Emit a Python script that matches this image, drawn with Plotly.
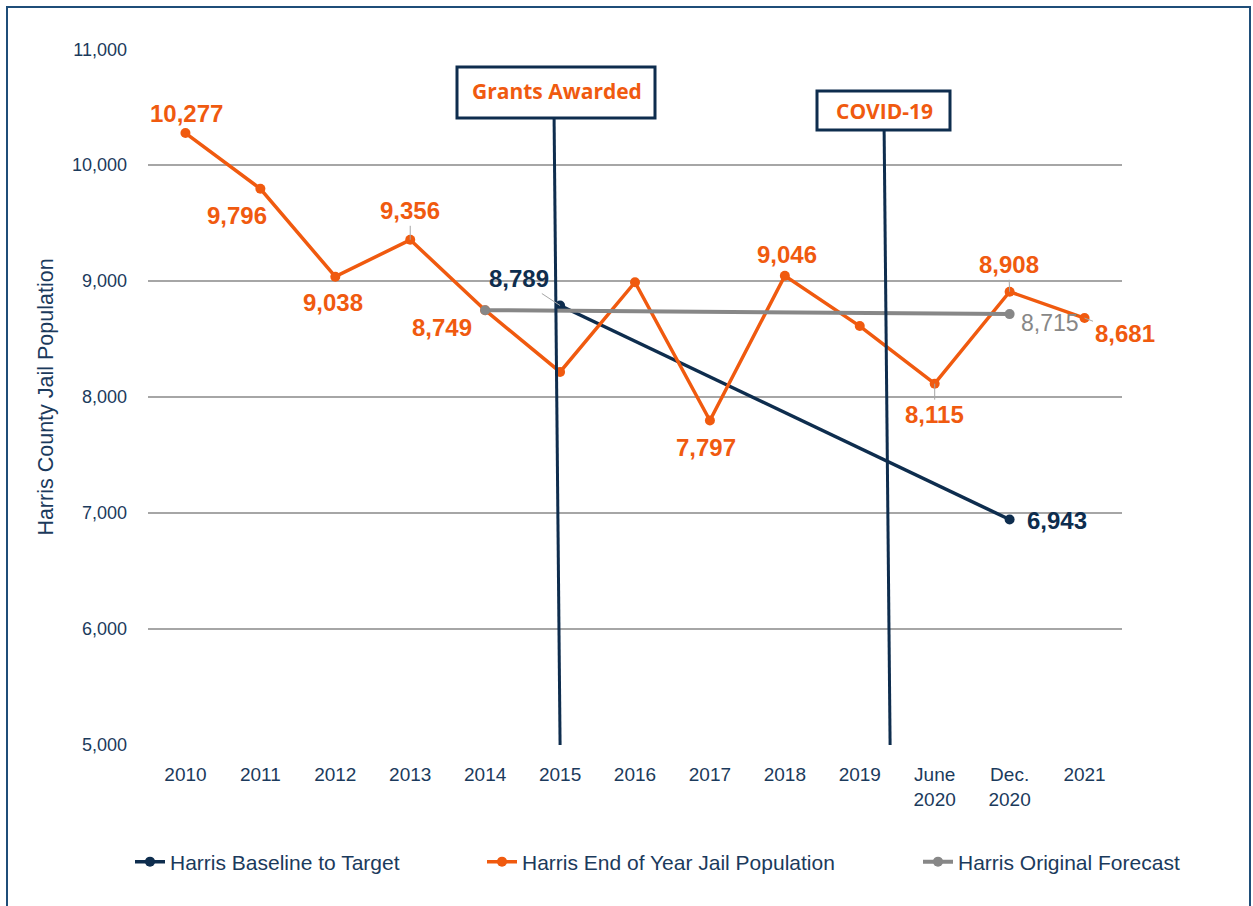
import plotly.graph_objects as go

# ---------------- data ----------------
categories = ["2010", "2011", "2012", "2013", "2014", "2015", "2016", "2017",
              "2018", "2019", "June<br>2020", "Dec.<br>2020", "2021"]
jail_population = [10277, 9796, 9038, 9356, 8749, 8216, 8990, 7797,
                   9046, 8612, 8115, 8908, 8681]
baseline_x = ["2015", "Dec.<br>2020"]
baseline_values = [8789, 6943]
forecast_x = ["2014", "Dec.<br>2020"]
forecast_values = [8749, 8715]
y_ticks = [5000, 6000, 7000, 8000, 9000, 10000, 11000]

# ---------------- style ----------------
ORANGE = "#F05A0F"
NAVY = "#0E2D4E"
GRAY = "#878787"
TEXT = "#1B3A5C"
GRID = "#A6A6A6"
LEADER = "#A6A6A6"
FONT = "Liberation Sans, Arial, sans-serif"

W, H = 1253, 906
ML, MR, MT, MB = 148, 131, 49, 161
PW, PH = W - ML - MR, H - MT - MB


def px_x(p):
    return (p - ML) / PW


def px_y(p):
    return (H - MB - p) / PH


def cat_idx(c):
    return categories.index(c)


fig = go.Figure()

fig.add_trace(go.Scatter(
    x=baseline_x, y=baseline_values, mode="lines+markers",
    name="Harris Baseline to Target", legend="legend",
    line=dict(color=NAVY, width=3.5), marker=dict(size=10, color=NAVY)))
fig.add_trace(go.Scatter(
    x=categories, y=jail_population, mode="lines+markers",
    name="Harris End of Year Jail Population", legend="legend2",
    line=dict(color=ORANGE, width=3.5), marker=dict(size=10, color=ORANGE)))
fig.add_trace(go.Scatter(
    x=forecast_x, y=forecast_values, mode="lines+markers",
    name="Harris Original Forecast", legend="legend3",
    line=dict(color=GRAY, width=4), marker=dict(size=10, color=GRAY)))

# ---------------- data labels ----------------
# (category index, dx, dy, leader?)
orange_labels = [(0, 1, -20, False), (1, -23, 27, False), (2, -2, 26, False),
                 (3, 0, -29, True), (4, -43, 17, False), (7, -4, 27, False),
                 (8, 2, -21, False), (10, 0, 31, True), (11, -1, -27, True),
                 (12, 40, 15, True)]
BOLD_SIZE = 24
annotations = []
for i, dx, dy, lead in orange_labels:
    annotations.append(dict(
        x=i, y=jail_population[i], text=f"{jail_population[i]:,}",
        showarrow=True, arrowhead=0, arrowwidth=1,
        arrowcolor=LEADER if lead else "rgba(0,0,0,0)",
        ax=dx, ay=dy,
        font=dict(family=FONT, size=BOLD_SIZE, color=ORANGE, weight="bold")))

annotations.append(dict(
    x=cat_idx(baseline_x[0]), y=baseline_values[0], text=f"{baseline_values[0]:,}",
    showarrow=True, arrowhead=0, arrowwidth=1, arrowcolor=LEADER,
    ax=-41, ay=-27, font=dict(family=FONT, size=BOLD_SIZE, color=NAVY, weight="bold")))
annotations.append(dict(
    x=cat_idx(baseline_x[1]), y=baseline_values[1], text=f"{baseline_values[1]:,}",
    showarrow=True, arrowhead=0, arrowcolor="rgba(0,0,0,0)",
    ax=47, ay=1, font=dict(family=FONT, size=BOLD_SIZE, color=NAVY, weight="bold")))
annotations.append(dict(
    x=cat_idx(forecast_x[1]), y=forecast_values[1], text=f"{forecast_values[1]:,}",
    showarrow=True, arrowhead=0, arrowcolor="rgba(0,0,0,0)",
    ax=40, ay=9, font=dict(family=FONT, size=23, color=GRAY)))

# event boxes text
annotations.append(dict(
    x=px_x(557), y=px_y(91), xref="paper", yref="paper", showarrow=False,
    xanchor="center", yanchor="middle", text="Grants Awarded",
    font=dict(family="Open Sans, sans-serif", size=21, color=ORANGE, weight="bold")))
annotations.append(dict(
    x=px_x(884), y=px_y(111), xref="paper", yref="paper", showarrow=False,
    xanchor="center", yanchor="middle", text="COVID-19",
    font=dict(family="Open Sans, sans-serif", size=21, color=ORANGE, weight="bold")))

shapes = [
    # outer frame
    dict(type="rect", xref="paper", yref="paper", x0=px_x(7), x1=px_x(1250),
         y0=px_y(960), y1=px_y(7), line=dict(color="#1F4E79", width=2), layer="below"),
    # event lines
    dict(type="line", xref="x", yref="paper", x0=4.92, x1=5.0,
         y0=px_y(118), y1=0, line=dict(color=NAVY, width=3), layer="above"),
    dict(type="line", xref="x", yref="paper", x0=9.325, x1=9.405,
         y0=px_y(130), y1=0, line=dict(color=NAVY, width=3), layer="above"),
    # event boxes
    dict(type="rect", xref="paper", yref="paper", x0=px_x(457), x1=px_x(655),
         y0=px_y(118), y1=px_y(67), fillcolor="white",
         line=dict(color=NAVY, width=3), layer="above"),
    dict(type="rect", xref="paper", yref="paper", x0=px_x(817), x1=px_x(950),
         y0=px_y(130), y1=px_y(91), fillcolor="white",
         line=dict(color=NAVY, width=3), layer="above"),
]

legend_common = dict(orientation="h", yanchor="middle", xanchor="left",
                     y=px_y(862), bgcolor="rgba(0,0,0,0)",
                     font=dict(family=FONT, size=21, color=TEXT))

fig.update_layout(
    width=W, height=H,
    margin=dict(l=ML, r=MR, t=MT, b=MB),
    paper_bgcolor="white", plot_bgcolor="white",
    font=dict(family=FONT, color=TEXT),
    showlegend=True,
    legend=dict(**legend_common, x=px_x(130)),
    legend2=dict(**legend_common, x=px_x(482)),
    legend3=dict(**legend_common, x=px_x(918)),
    annotations=annotations,
    shapes=shapes,
    xaxis=dict(type="category", categoryorder="array", categoryarray=categories,
               range=[-0.5, len(categories) - 0.5], showgrid=False, zeroline=False,
               showline=False, ticks="", ticklabelstandoff=16,
               tickfont=dict(family=FONT, size=19, color=TEXT)),
    yaxis=dict(range=[4998, 11002], tickvals=y_ticks, tickformat=",",
               showgrid=True, gridcolor=GRID, gridwidth=1.5, zeroline=False,
               showline=False, ticks="", ticklabelstandoff=20,
               tickfont=dict(family=FONT, size=18, color=TEXT),
               title=dict(text="Harris County Jail Population", standoff=12,
                          font=dict(family=FONT, size=21.5, color=TEXT))),
)

fig.write_html("out.html", config={"displayModeBar": False},
               post_script="document.body.style.margin='0px';")
